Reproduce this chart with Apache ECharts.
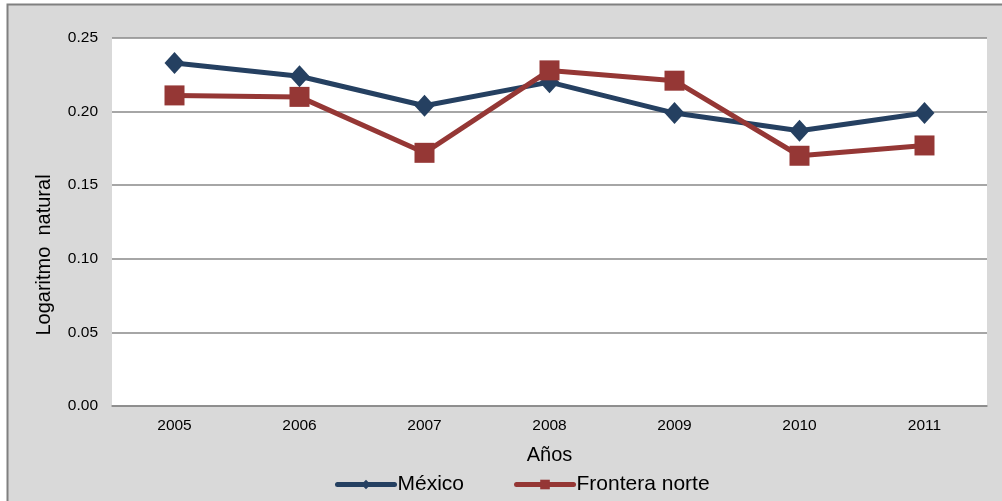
<!DOCTYPE html>
<html><head><meta charset="utf-8">
<script src="https://cdn.jsdelivr.net/npm/echarts@6/dist/echarts.min.js"></script>
<style>html,body{margin:0;padding:0;background:#fff;}#c{width:1002px;height:501px;}</style>
</head><body><div id="c"></div>
<script>
const years = ['2005','2006','2007','2008','2009','2010','2011'];
const mexico = [0.233, 0.224, 0.204, 0.220, 0.199, 0.187, 0.199];
const frontera = [0.211, 0.210, 0.172, 0.228, 0.221, 0.170, 0.177];
const seriesNames = ['México', 'Frontera norte'];
const yAxisTitle = 'Logaritmo  natural';
const xAxisTitle = 'Años';

const chart = echarts.init(document.getElementById('c'));
const font = 'Liberation Sans, Arial, sans-serif';
chart.setOption({
  animation: false,
  backgroundColor: '#fff',
  graphic: [{
    type: 'rect', z: -10, silent: true,
    shape: {x: 7.5, y: 4.5, width: 1000, height: 500},
    style: {fill: '#d9d9d9', stroke: '#808080', lineWidth: 2}
  }, {
    type: 'rect', z: -5, silent: true,
    shape: {x: 112, y: 38, width: 875, height: 368},
    style: {fill: '#fff'}
  }, {
    type: 'text', silent: true, x: 44, y: 255, rotation: Math.PI / 2,
    style: {text: yAxisTitle, font: '20px ' + font, fill: '#000',
      align: 'center', verticalAlign: 'middle'}
  }],
  grid: {left: 112, right: 15, top: 38, bottom: 95},
  legend: {
    data: seriesNames,
    top: 469, left: 330,
    itemWidth: 57, itemHeight: 12, itemGap: 50,
    lineStyle: {width: 5, cap: 'round'},
    textStyle: {fontFamily: font, fontSize: 21, color: '#000', padding: [0,0,0,-2]}
  },
  xAxis: {
    type: 'category', data: years, boundaryGap: true,
    name: xAxisTitle, nameLocation: 'middle', nameGap: 39,
    nameTextStyle: {fontFamily: font, fontSize: 20, color: '#000'},
    axisLine: {lineStyle: {color: '#888', width: 1.5}},
    axisTick: {show: false},
    axisLabel: {fontFamily: font, fontSize: 15.5, color: '#000', margin: 12}
  },
  yAxis: {
    type: 'value', min: 0, max: 0.25, interval: 0.05,
    axisLine: {show: false}, axisTick: {show: false},
    splitLine: {lineStyle: {color: '#888', width: 1.5}},
    axisLabel: {fontFamily: font, fontSize: 15.5, color: '#000', margin: 14,
      formatter: v => v.toFixed(2)}
  },
  series: [{
    name: seriesNames[0], type: 'line', data: mexico,
    symbol: 'diamond', symbolSize: [20, 22],
    lineStyle: {color: '#254061', width: 5},
    itemStyle: {color: '#254061'}
  }, {
    name: seriesNames[1], type: 'line', data: frontera,
    symbol: 'rect', symbolSize: 20,
    lineStyle: {color: '#953735', width: 5},
    itemStyle: {color: '#953735'}
  }]
});
</script></body></html>
